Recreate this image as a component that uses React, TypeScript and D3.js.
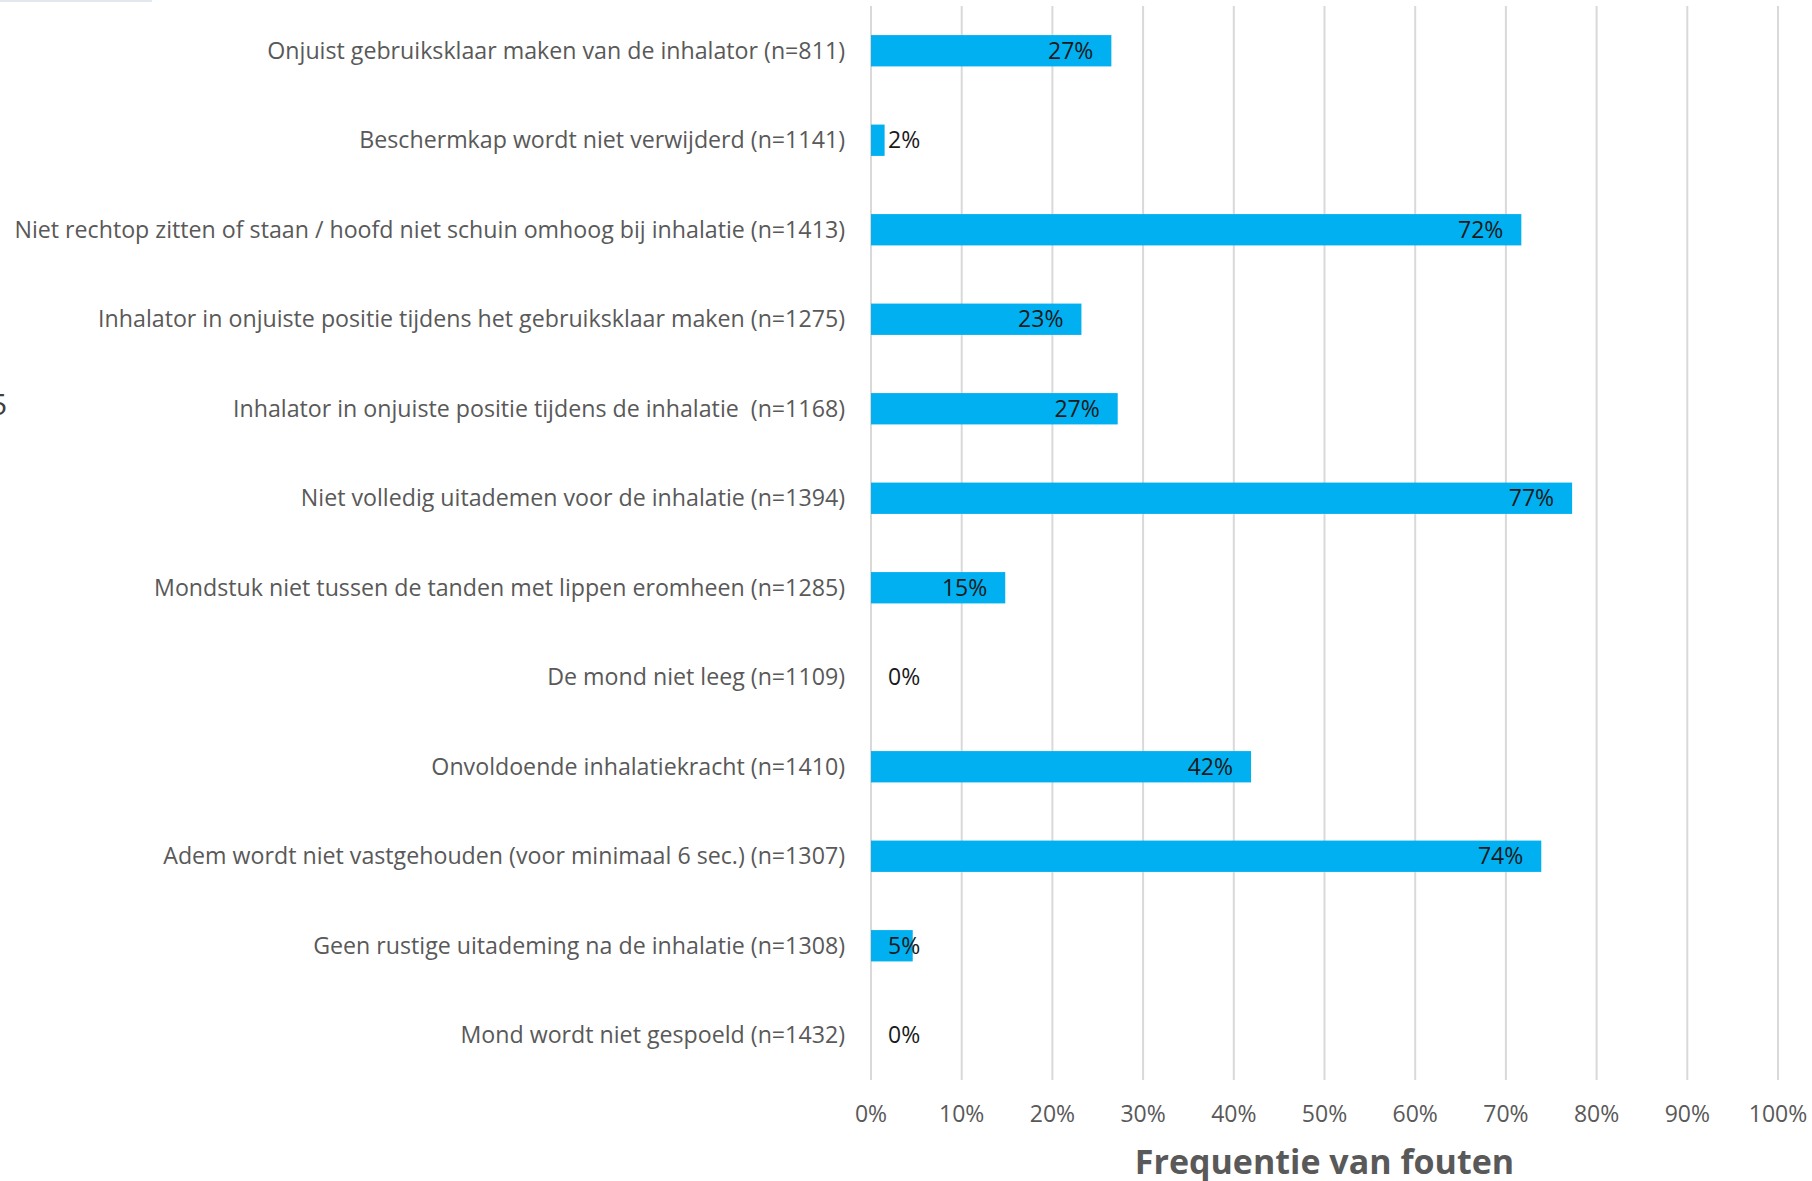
import { useEffect, useRef } from 'react';
import * as d3 from 'd3';

const categories = [
  'Onjuist gebruiksklaar maken van de inhalator (n=811)',
  'Beschermkap wordt niet verwijderd (n=1141)',
  'Niet rechtop zitten of staan / hoofd niet schuin omhoog bij inhalatie (n=1413)',
  'Inhalator in onjuiste positie tijdens het gebruiksklaar maken (n=1275)',
  'Inhalator in onjuiste positie tijdens de inhalatie  (n=1168)',
  'Niet volledig uitademen voor de inhalatie (n=1394)',
  'Mondstuk niet tussen de tanden met lippen eromheen (n=1285)',
  'De mond niet leeg (n=1109)',
  'Onvoldoende inhalatiekracht (n=1410)',
  'Adem wordt niet vastgehouden (voor minimaal 6 sec.) (n=1307)',
  'Geen rustige uitademing na de inhalatie (n=1308)',
  'Mond wordt niet gespoeld (n=1432)',
];

// percentage of errors
const values = [26.5, 1.5, 71.7, 23.2, 27.2, 77.3, 14.8, 0, 41.9, 73.9, 4.6, 0];

const tickValues = [0, 10, 20, 30, 40, 50, 60, 70, 80, 90, 100];

const axisTitle = 'Frequentie van fouten';

const W = 1812;
const H = 1181;
const FONT = '"Open Sans", "Noto Sans", sans-serif';

export default function App() {
  const svgRef = useRef<SVGSVGElement>(null);

  useEffect(() => {
    const svg = d3.select(svgRef.current);
    svg.selectAll('*').remove();

    const x = d3.scaleLinear().domain([0, 100]).range([871, 1778]);
    const y = d3
      .scaleBand<string>()
      .domain(categories)
      .range([6, 1080])
      .paddingInner(0.65)
      .paddingOuter(0.325);

    // faint strip at the top left (crop remnant)
    svg.append('rect')
      .attr('x', 0).attr('y', 0).attr('width', 152).attr('height', 2)
      .attr('fill', '#e3e8ef');

    // cut-off glyph at the left edge
    svg.append('text')
      .attr('x', -10).attr('y', 404)
      .attr('dy', '0.35em')
      .style('font-family', FONT)
      .style('font-size', '30px')
      .attr('fill', '#404040')
      .text('5');

    // gridlines
    svg.append('g')
      .selectAll('line')
      .data(tickValues)
      .enter().append('line')
      .attr('x1', d => x(d)).attr('x2', d => x(d))
      .attr('y1', 6).attr('y2', 1080)
      .attr('stroke', '#d9d9d9')
      .attr('stroke-width', 2);

    // tick labels
    svg.append('g')
      .selectAll('text')
      .data(tickValues)
      .enter().append('text')
      .attr('x', d => x(d))
      .attr('y', 1114)
      .attr('dy', '0.35em')
      .attr('text-anchor', 'middle')
      .style('font-family', FONT)
      .style('font-size', '23px')
      .attr('fill', '#595959')
      .text(d => `${d}%`);

    // category labels
    svg.append('g')
      .selectAll('text')
      .data(categories)
      .enter().append('text')
      .attr('x', 845)
      .attr('y', d => (y(d) ?? 0) + y.bandwidth() / 2)
      .attr('dy', '0.35em')
      .attr('text-anchor', 'end')
      .style('white-space', 'pre')
      .style('font-family', FONT)
      .style('font-size', '23.2px')
      .attr('fill', '#595959')
      .text(d => d);

    // bars
    svg.append('g')
      .selectAll('rect')
      .data(values)
      .enter().append('rect')
      .attr('x', x(0))
      .attr('y', (_, i) => y(categories[i]) ?? 0)
      .attr('width', d => x(d) - x(0))
      .attr('height', y.bandwidth())
      .attr('fill', '#00b0f0');

    // value labels: inside end, fall back to near the axis when too small
    const labels = svg.append('g')
      .selectAll('text')
      .data(values)
      .enter().append('text')
      .attr('y', (_, i) => (y(categories[i]) ?? 0) + y.bandwidth() / 2)
      .attr('dy', '0.35em')
      .style('font-family', FONT)
      .style('font-size', '23px')
      .attr('fill', '#1a1a1a')
      .text(d => `${Math.round(d)}%`);

    labels.each(function (d) {
      const t = this as SVGTextElement;
      const w = t.getComputedTextLength();
      const endX = x(d) - 18;
      const minX = x(0) + 17;
      if (endX - w >= minX) {
        d3.select(t).attr('x', endX).attr('text-anchor', 'end');
      } else {
        d3.select(t).attr('x', minX).attr('text-anchor', 'start');
      }
    });

    // axis title
    svg.append('text')
      .attr('x', (x(0) + x(100)) / 2)
      .attr('y', 1174)
      .attr('text-anchor', 'middle')
      .style('font-family', FONT)
      .style('font-size', '34px')
      .style('font-weight', 700)
      .attr('fill', '#595959')
      .text(axisTitle);
  }, []);

  return (
    <div style={{ position: 'absolute', left: 0, top: 0 }}>
      <svg ref={svgRef} width={W} height={H} style={{ display: 'block', background: '#fff' }} />
    </div>
  );
}
